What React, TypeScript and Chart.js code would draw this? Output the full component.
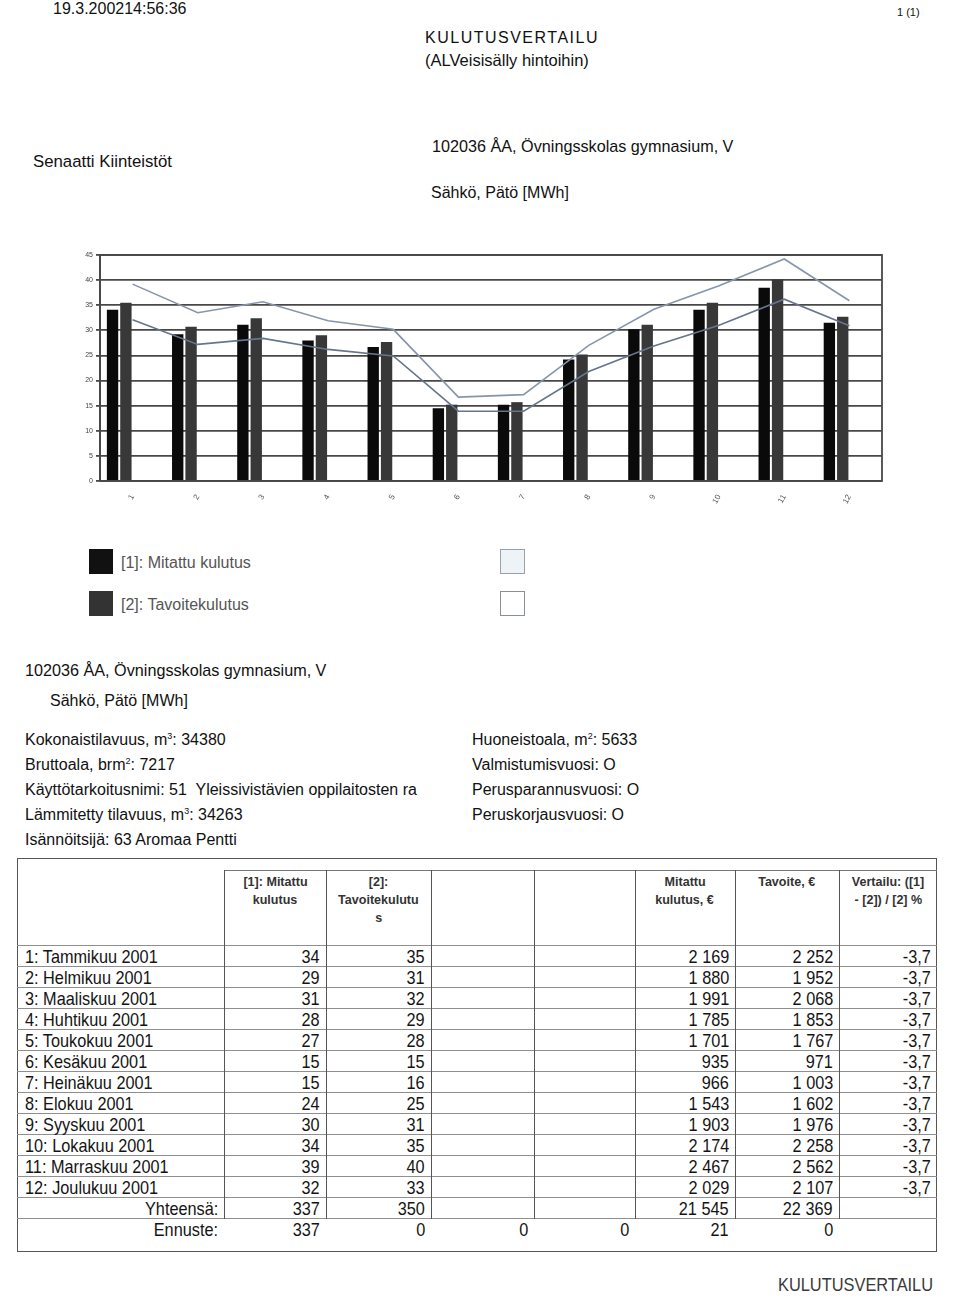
import React, { useEffect, useRef } from "react";
import { Chart, registerables } from "chart.js";
Chart.register(...registerables);

// ---- chart data ----
const months = ["1", "2", "3", "4", "5", "6", "7", "8", "9", "10", "11", "12"];
const measured = [34.1, 29.2, 31.1, 28.0, 26.7, 14.5, 15.2, 24.2, 30.2, 34.1, 38.5, 31.5];
const target = [35.5, 30.7, 32.4, 29.0, 27.7, 15.2, 15.7, 25.2, 31.1, 35.5, 40.1, 32.7];
const upperLine = [39.2, 33.5, 35.7, 31.9, 30.2, 16.7, 17.2, 27.0, 34.2, 38.9, 44.2, 35.9];
const lowerLine = [32.1, 27.2, 28.4, 26.2, 24.9, 13.9, 13.9, 21.8, 26.9, 31.0, 36.2, 30.9];
const legendLabels = ["[1]: Mitattu kulutus", "[2]: Tavoitekulutus"];

// ---- table data ----
const tableMonths = [
  "1: Tammikuu 2001", "2: Helmikuu 2001", "3: Maaliskuu 2001", "4: Huhtikuu 2001",
  "5: Toukokuu 2001", "6: Kesäkuu 2001", "7: Heinäkuu 2001", "8: Elokuu 2001",
  "9: Syyskuu 2001", "10: Lokakuu 2001", "11: Marraskuu 2001", "12: Joulukuu 2001",
];
const tableMeasured = ["34", "29", "31", "28", "27", "15", "15", "24", "30", "34", "39", "32"];
const tableTarget = ["35", "31", "32", "29", "28", "15", "16", "25", "31", "35", "40", "33"];
const tableMeasuredEur = ["2 169", "1 880", "1 991", "1 785", "1 701", "935", "966", "1 543", "1 903", "2 174", "2 467", "2 029"];
const tableTargetEur = ["2 252", "1 952", "2 068", "1 853", "1 767", "971", "1 003", "1 602", "1 976", "2 258", "2 562", "2 107"];
const tableCompare = ["-3,7", "-3,7", "-3,7", "-3,7", "-3,7", "-3,7", "-3,7", "-3,7", "-3,7", "-3,7", "-3,7", "-3,7"];
const totalsRow = ["Yhteensä:", "337", "350", "", "", "21 545", "22 369", ""];
const forecastRow = ["Ennuste:", "337", "0", "0", "0", "21", "0", ""];
const tableHeaders = [
  [],
  ["[1]: Mitattu", "kulutus"],
  ["[2]:", "Tavoitekulutu", "s"],
  [],
  [],
  ["Mitattu", "kulutus, €"],
  ["Tavoite, €"],
  ["Vertailu: ([1]", "- [2]) / [2] %"],
];

const SANS = "'Liberation Sans', Arial, Helvetica, sans-serif";

const framePlugin = {
  id: "frame",
  beforeDatasetsDraw(chart: any) {
    const { ctx, chartArea } = chart;
    ctx.save();
    ctx.strokeStyle = "#484848";
    ctx.lineWidth = 1.8;
    ctx.strokeRect(chartArea.left, chartArea.top, chartArea.right - chartArea.left, chartArea.bottom - chartArea.top);
    ctx.restore();
  },
};

function ChartBox() {
  const ref = useRef<HTMLCanvasElement | null>(null);
  useEffect(() => {
    if (!ref.current) return;
    const barOpts = { categoryPercentage: 0.82, barPercentage: 0.85, order: 2 };
    const chart = new Chart(ref.current, {
      type: "bar",
      data: {
        labels: months,
        datasets: [
          { type: "line", data: upperLine, borderColor: "#8795ab", borderWidth: 1.6, pointRadius: 0, tension: 0, order: 0 } as any,
          { type: "line", data: lowerLine, borderColor: "#66748c", borderWidth: 1.6, pointRadius: 0, tension: 0, order: 0 } as any,
          { label: legendLabels[0], data: measured, backgroundColor: "#0a0a0a", ...barOpts },
          { label: legendLabels[1], data: target, backgroundColor: "#383838", ...barOpts },
          { label: "", data: [], backgroundColor: "transparent", ...barOpts },
          { label: "", data: [], backgroundColor: "transparent", ...barOpts },
        ],
      },
      options: {
        responsive: false,
        animation: false,
        layout: { padding: { top: 10, right: 8, left: 0, bottom: 0 } },
        plugins: { legend: { display: false }, tooltip: { enabled: false } },
        scales: {
          x: {
            grid: { display: false },
            border: { display: false },
            ticks: { font: { size: 8, family: SANS }, color: "#555", minRotation: 60, maxRotation: 60, padding: 4 },
            afterFit: (s: any) => { s.height = 30; },
          },
          y: {
            min: 0,
            max: 45,
            ticks: { stepSize: 5, font: { size: 7, family: SANS }, color: "#444", padding: 3 },
            grid: { color: "#484848", lineWidth: 1.8, tickLength: 4, drawTicks: true },
            border: { display: true, color: "#484848", width: 1.8 },
            afterFit: (s: any) => { s.width = 40; },
          },
        },
      },
      plugins: [framePlugin],
    });
    return () => chart.destroy();
  }, []);
  return <canvas ref={ref} width={830} height={266} style={{ position: "absolute", left: 60, top: 245, width: 830, height: 266 }} />;
}

function Txt(props: { x: number; cy: number; size: number; children: any; style?: any }) {
  const lh = Math.round(props.size * 1.3);
  return (
    <div
      style={{
        position: "absolute",
        left: props.x,
        top: props.cy - lh / 2,
        fontSize: props.size,
        lineHeight: lh + "px",
        whiteSpace: "pre",
        color: "#111",
        ...props.style,
      }}
    >
      {props.children}
    </div>
  );
}

function Squeeze(props: { k: number; origin: string; children: any }) {
  return (
    <span style={{ display: "inline-block", transform: `scaleX(${props.k})`, transformOrigin: props.origin, whiteSpace: "nowrap" }}>
      {props.children}
    </span>
  );
}

const supStyle = { fontSize: 9, verticalAlign: "6px", lineHeight: 0 };

function Table() {
  const colX = [17, 224, 326, 431, 534, 635, 735, 839, 937];
  const headerTop = 870;
  const rowTop = 946;
  const rowH = 21;
  const rows: string[][] = tableMonths.map((m, i) => [
    m, tableMeasured[i], tableTarget[i], "", "", tableMeasuredEur[i], tableTargetEur[i], tableCompare[i],
  ]);
  rows.push(totalsRow);
  rows.push(forecastRow);
  const els: any[] = [];
  els.push(<div key="frame" style={{ position: "absolute", left: 17, top: 858, width: 920, height: 394, border: "1.5px solid #555", boxSizing: "border-box" }} />);
  els.push(<div key="htop" style={{ position: "absolute", left: colX[1], top: headerTop, width: colX[8] - colX[1], height: 0, borderTop: "1px solid #777" }} />);
  for (let r = 0; r <= 13; r++) {
    els.push(<div key={"h" + r} style={{ position: "absolute", left: 17, top: rowTop + r * rowH - 1, width: 920, height: 0, borderTop: "1px solid #8f8f8f" }} />);
  }
  for (let c = 1; c <= 7; c++) {
    els.push(<div key={"v" + c} style={{ position: "absolute", left: colX[c], top: headerTop, width: 0, height: rowTop + 13 * rowH - headerTop, borderLeft: "1.5px solid #555" }} />);
  }
  tableHeaders.forEach((lines, c) => {
    lines.forEach((t, k) => {
      els.push(
        <div key={"hd" + c + "_" + k} style={{ position: "absolute", left: colX[c], width: colX[c + 1] - colX[c], top: headerTop + 3 + k * 18, lineHeight: "18px", textAlign: "center", fontWeight: "bold", fontSize: 13.5, color: "#333" }}>
          <Squeeze k={0.93} origin="center center">{t}</Squeeze>
        </div>
      );
    });
  });
  rows.forEach((row, r) => {
    const isTotal = r >= 12;
    row.forEach((v, c) => {
      if (!v) return;
      const left = c === 0 && !isTotal;
      els.push(
        <div key={"c" + r + "_" + c} style={{ position: "absolute", left: colX[c] + (left ? 8 : 0), width: colX[c + 1] - colX[c] - (left ? 8 : 6), top: rowTop + r * rowH, height: rowH, lineHeight: rowH + "px", textAlign: left ? "left" : "right", fontSize: 18.5, color: "#141414", whiteSpace: "nowrap" }}>
          <Squeeze k={0.88} origin={left ? "left center" : "right center"}>{v}</Squeeze>
        </div>
      );
    });
  });
  return <>{els}</>;
}

export default function App() {
  const info = { size: 16 };
  return (
    <div style={{ position: "absolute", left: 0, top: 0, width: 960, height: 1305, background: "#fff", fontFamily: SANS, overflow: "hidden" }}>
      <Txt x={53} cy={8} size={16}>19.3.200214:56:36</Txt>
      <Txt x={897} cy={12} size={11}>1 (1)</Txt>
      <Txt x={425} cy={37} size={16} style={{ letterSpacing: "1.5px" }}>KULUTUSVERTAILU</Txt>
      <Txt x={425} cy={60} size={16.5}>(ALVeisisälly hintoihin)</Txt>
      <Txt x={33} cy={162} size={16.8}>Senaatti Kiinteistöt</Txt>
      <Txt x={432} cy={146} size={16.2}>102036 ÅA, Övningsskolas gymnasium, V</Txt>
      <Txt x={431} cy={192} size={16}>Sähkö, Pätö [MWh]</Txt>

      <ChartBox />

      <div style={{ position: "absolute", left: 89, top: 549, width: 24, height: 25, background: "#111" }} />
      <div style={{ position: "absolute", left: 89, top: 591, width: 24, height: 25, background: "#333" }} />
      <Txt x={121} cy={562} size={16} style={{ color: "#555" }}>{legendLabels[0]}</Txt>
      <Txt x={121} cy={604} size={16} style={{ color: "#555" }}>{legendLabels[1]}</Txt>
      <div style={{ position: "absolute", left: 500, top: 549, width: 25, height: 25, border: "1.5px solid #9aa0a8", background: "#eef3f8", boxSizing: "border-box" }} />
      <div style={{ position: "absolute", left: 500, top: 591, width: 25, height: 25, border: "1.5px solid #8a9098", background: "#fff", boxSizing: "border-box" }} />

      <Txt x={25} cy={670} size={16.2}>102036 ÅA, Övningsskolas gymnasium, V</Txt>
      <Txt x={50} cy={700} size={16}>Sähkö, Pätö [MWh]</Txt>

      <Txt x={25} cy={739} size={info.size}>Kokonaistilavuus, m<sup style={supStyle}>3</sup>: 34380</Txt>
      <Txt x={25} cy={764} size={info.size}>Bruttoala, brm<sup style={supStyle}>2</sup>: 7217</Txt>
      <Txt x={25} cy={789} size={info.size}>Käyttötarkoitusnimi: 51  Yleissivistävien oppilaitosten ra</Txt>
      <Txt x={25} cy={814} size={info.size}>Lämmitetty tilavuus, m<sup style={supStyle}>3</sup>: 34263</Txt>
      <Txt x={25} cy={839} size={info.size}>Isännöitsijä: 63 Aromaa Pentti</Txt>
      <Txt x={472} cy={739} size={info.size}>Huoneistoala, m<sup style={supStyle}>2</sup>: 5633</Txt>
      <Txt x={472} cy={764} size={info.size}>Valmistumisvuosi: O</Txt>
      <Txt x={472} cy={789} size={info.size}>Perusparannusvuosi: O</Txt>
      <Txt x={472} cy={814} size={info.size}>Peruskorjausvuosi: O</Txt>

      <Table />

      <Txt x={778} cy={1285} size={18} style={{ color: "#3a3a3a" }}>
        <Squeeze k={0.91} origin="left center">KULUTUSVERTAILU</Squeeze>
      </Txt>
    </div>
  );
}
